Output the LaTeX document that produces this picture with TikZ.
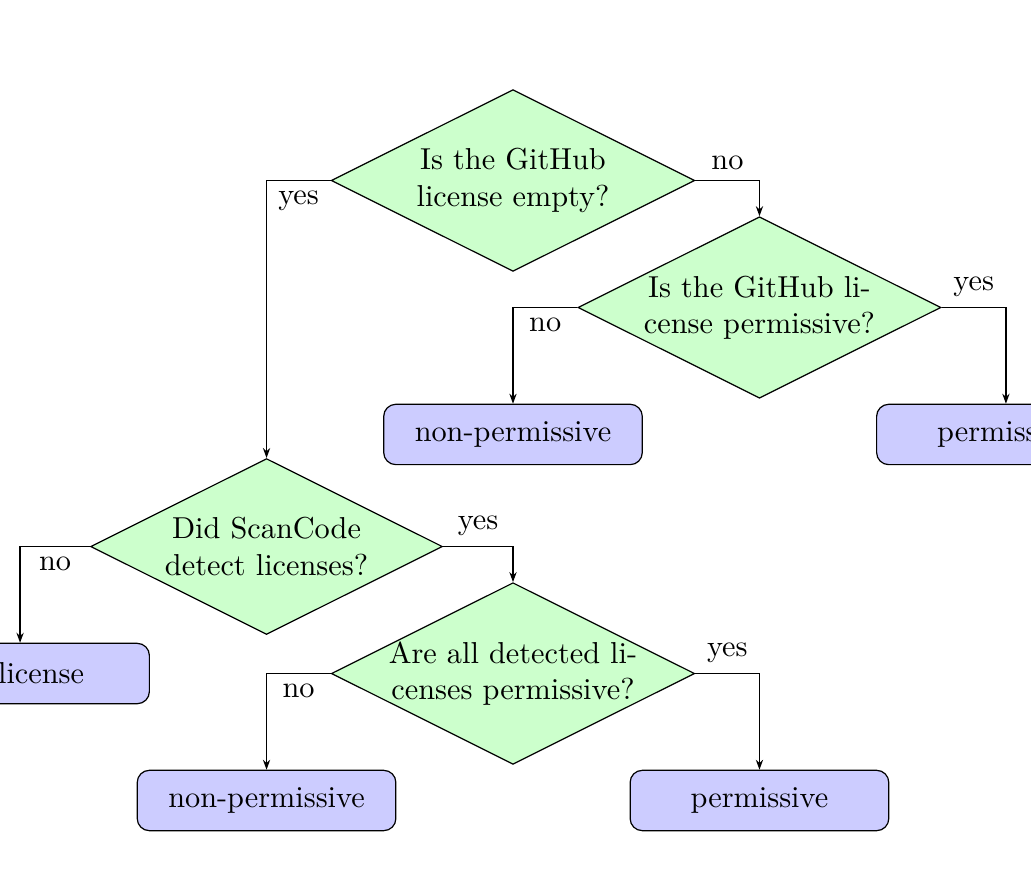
\documentclass[tikz,border=0pt]{standalone}
\usepackage{xcolor}
\usepackage{tikz}
\usetikzlibrary{positioning,arrows.meta,shapes.geometric}

\begin{document}
\begin{tikzpicture}[
  node distance=1.473cm and 2.859cm, on grid,
  decision/.style={diamond, aspect=2, draw, fill=green!20, text width=2.84cm, align=center, inner sep=-0.5pt},
  block/.style={rectangle, draw, fill=blue!20, rounded corners, minimum width=3cm, minimum height=0.7cm, align=center},
  arr/.style={-{Stealth[length=3.3pt, width=2.4pt]}}]
  \useasboundingbox (-5.951,2.094) rectangle (6.009,-7.998);
  \node[decision] (ghempty) {Is the GitHub license empty?};
  \node[decision, below right=of ghempty] (ghperm) {Is the GitHub license permissive?};
  \node[block, below left=of ghperm] (ghnon) {non-permissive};
  \node[block, below right=of ghperm] (ghyes) {permissive};
  \node[decision, below left=4.246cm and 2.859cm of ghempty] (scdet) {Did ScanCode detect licenses?};
  \node[block, below left=of scdet] (nolic) {no license};
  \node[decision, text width=2.9cm, inner sep=-0.8pt, below right=of scdet] (scperm) {Are all detected licenses permissive?};
  \node[block, below left=of scperm] (scnon) {non-permissive};
  \node[block, below right=of scperm] (scyes) {permissive};
  \draw[arr] (ghempty.west) -| (scdet.north) node[pos=0.25, below] {yes};
  \draw[arr] (ghempty.east) -| (ghperm.north) node[pos=0.25, above] {no};
  \draw[arr] (ghperm.west) -| (ghnon.north) node[pos=0.25, below] {no};
  \draw[arr] (ghperm.east) -| (ghyes.north) node[pos=0.25, above] {yes};
  \draw[arr] (scdet.west) -| (nolic.north) node[pos=0.25, below] {no};
  \draw[arr] (scdet.east) -| (scperm.north) node[pos=0.25, above] {yes};
  \draw[arr] (scperm.west) -| (scnon.north) node[pos=0.25, below] {no};
  \draw[arr] (scperm.east) -| (scyes.north) node[pos=0.25, above] {yes};
\end{tikzpicture}
\end{document}
